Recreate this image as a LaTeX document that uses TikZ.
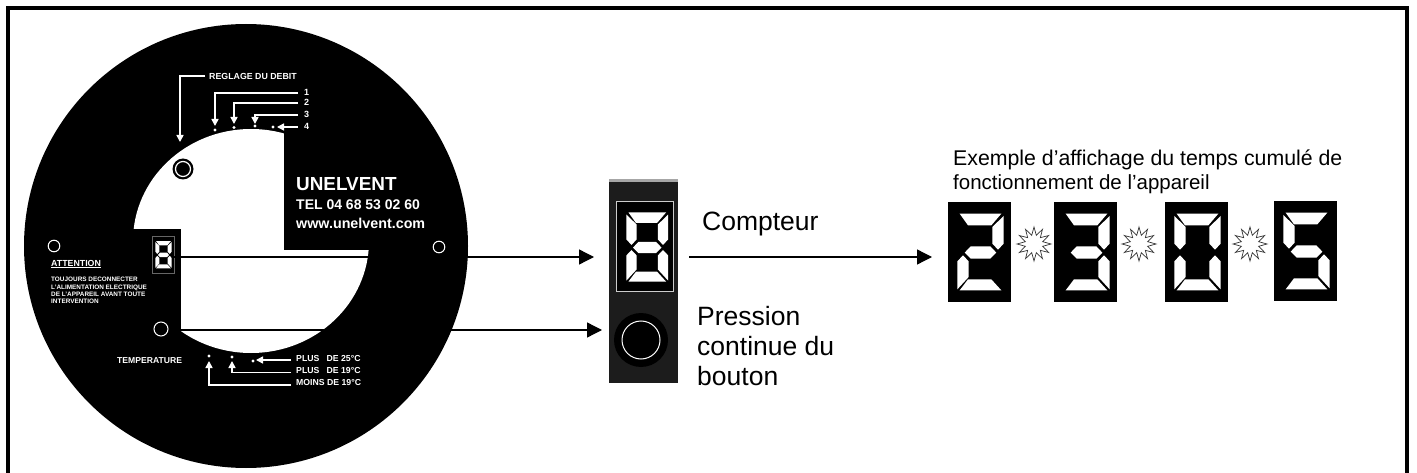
\documentclass[tikz,border=0pt]{standalone}
\usepackage{fontspec}
\setmainfont{Liberation Sans}
\usetikzlibrary{arrows.meta,shapes.geometric}
\definecolor{paneldark}{HTML}{1C1C1C}
\tikzset{
	x=1pt, y=-1pt,
	plate/.style={text=white, font=\bfseries\fontsize{#1}{#1}\selectfont, inner sep=0pt, anchor=west},
	plate/.default=8,
	caption/.style={font=\fontsize{#1}{#1}\selectfont, inner sep=0pt, anchor=west},
	hint/.style={white, line width=1.6pt, -{Triangle[length=7pt,width=7pt]}},
	callout/.style={black, line width=1.3pt, -{Triangle[length=15pt,width=15pt]}},
	burst/.style={star, star points=12, star point ratio=1.9, draw=black!80, line width=0.7pt, fill=white, minimum size=34pt, inner sep=0pt}
}
% one segment of a display, in a 189 x 300 box
\def\segA{(35,35) -- (160,35) -- (130,70) -- (60,70) -- cycle}
\def\segB{(167,42) -- (167,125) -- (150,143) -- (133,125) -- (133,75) -- cycle}
\def\segC{(167,178) -- (167,262) -- (133,225) -- (133,178) -- (150,160) -- cycle}
\def\segD{(35,265) -- (60,232) -- (130,232) -- (160,265) -- cycle}
\def\segE{(28,178) -- (45,160) -- (62,178) -- (62,225) -- (28,262) -- cycle}
\def\segF{(28,42) -- (62,75) -- (62,125) -- (45,143) -- (28,125) -- cycle}
\def\segG{(50,152) -- (68,133) -- (127,133) -- (145,152) -- (127,170) -- (68,170) -- cycle}
\def\digit[#1](#2,#3)(#4){\begin{scope}[shift={(#2,#3)}, x=#1pt, y=-#1pt]
		\foreach \s in {#4} {\fill[white] \csname seg\s\endcsname;}
	\end{scope}}

\begin{document}
\begin{tikzpicture}
	%%%%% START %%%%%
	\useasboundingbox (0, 0) rectangle (1417, 473);
	\draw[line width=4pt] (8, 473) -- (8, 8.5) -- (1407, 8.5) -- (1407, 473);
	
	% plate
	\fill[black] (246, 246) circle (222);
	\fill[white] (251, 241) ellipse (118 and 112);
	\fill[black] (284, 118) rectangle (380, 250);
	\fill[black] (120, 229) rectangle (181, 362);
	
	\fill[black] (183, 169) circle (10.5);
	\draw[white, line width=1.2pt] (183, 169) circle (7.5);
	\draw[white, line width=1pt] (54, 246) circle (5.8);
	\draw[white, line width=1pt] (439, 247) circle (5.8);
	
	\node[plate=8.8] (reglage) at (209, 76) {REGLAGE DU DEBIT};
	\node[plate=9] (un) at (304, 92) {1};
	\node[plate=9] (deux) at (304, 102) {2};
	\node[plate=9] (trois) at (304, 114) {3};
	\node[plate=9] (quatre) at (304, 126) {4};
	
	\coordinate (cible) at (180, 142);
	\coordinate (cibleA) at (215, 126);
	\coordinate (cibleB) at (234, 124);
	\coordinate (cibleC) at (255, 124);
	\coordinate (cibleD) at (277, 127);
	\draw[hint] (reglage.west) ++(-4, 0) -| (cible);
	\draw[hint] (un.west) ++(-6, 1) -| (cibleA);
	\draw[hint] (deux.west) ++(-6, 1) -| (cibleB);
	\draw[hint] (trois.west) ++(-6, 1) -| (cibleC);
	\draw[hint] (quatre.west) ++(-6, 1) -- (cibleD);
	\foreach \px/\py in {215/130, 234/127.5, 255/126, 273/127, 209/356, 232/357, 253/361}
		\fill[white] (\px, \py) circle (1.6);
	
	\node[plate=18.9, anchor=west] (marque) at (296, 184) {UNELVENT};
	\node[plate=14] (tel) at (296, 205) {TEL 04 68 53 02 60};
	\node[plate=14.3] (web) at (296, 223) {www.unelvent.com};
	
	\node[plate=8.8] (attention) at (51, 264) {\underline{ATTENTION}};
	\node[plate=6.4, align=left, anchor=north west, font=\bfseries\fontsize{6.4}{7.4}\selectfont] (consigne) at (51, 277) {TOUJOURS DECONNECTER\\L'ALIMENTATION ELECTRIQUE\\DE L'APPAREIL AVANT TOUTE\\INTERVENTION};
	
	\draw[black!60, fill=black, line width=0.5pt] (152, 236) rectangle (174, 273);
	\digit[0.118](152, 237)(A,B,C,D,E,F,G)
	\coordinate (afficheur) at (174, 257);
	\fill[black] (161, 329) circle (9);
	\draw[white, line width=1pt] (161, 329) circle (7);
	\coordinate (bouton) at (169, 330);
	
	\node[plate=8.6] (temp) at (117, 361) {TEMPERATURE};
	\node[plate=8.7] (chaud) at (296, 359) {PLUS\hspace{0.55em} DE 25°C};
	\node[plate=8.7] (tiede) at (296, 371) {PLUS\hspace{0.55em} DE 19°C};
	\node[plate=8.7] (froid) at (296, 383) {MOINS DE 19°C};
	\coordinate (cibleE) at (256, 360);
	\coordinate (cibleF) at (232, 361);
	\coordinate (cibleG) at (209, 361);
	\draw[hint] (chaud.west) ++(-5, 1) -- (cibleE);
	\draw[hint] (tiede.west) ++(-5, 1.5) -| (cibleF);
	\draw[hint] (froid.west) ++(-5, 2) -| (cibleG);
	
	% boitier
	\fill[paneldark] (609, 179) rectangle (678, 383);
	\fill[black!35] (609, 179) rectangle (678, 182);
	\draw[black!20, fill=black, line width=0.7pt] (616, 201.5) rectangle (673, 291.5);
	\digit[0.3](618, 202)(A,B,C,D,E,F,G)
	\fill[black] (641, 340) circle (27);
	\draw[white, line width=1pt] (641, 340) circle (19);
	\coordinate (compteurA) at (594, 257);
	\coordinate (compteurB) at (602, 330);
	\coordinate (depart) at (689, 257);
	\coordinate (exemple) at (932, 257);
	
	\draw[callout] (afficheur) -- (compteurA);
	\draw[callout] (bouton) -- (compteurB);
	\draw[callout] (depart) -- (exemple);
	
	\node[caption=26.5] (compteur) at (702, 224) {Compteur};
	\node[caption=26.5, align=left, anchor=north west, font=\fontsize{26.5}{30}\selectfont] (pression) at (697, 306) {Pression\\continue du\\bouton};
	\node[caption=20.5, align=left, anchor=north west, font=\fontsize{20.5}{24}\selectfont] (titre) at (953, 150) {\fontsize{21.3}{24}\selectfont Exemple d’affichage du temps cumulé de\\fonctionnement de l’appareil};
	
	% exemple de sequence
	\fill[black] (948, 202) rectangle (1011, 302);
	\digit[0.3333](948, 202)(A,B,G,E,D)
	\fill[black] (1054, 202) rectangle (1117, 302);
	\digit[0.3333](1054, 202)(A,B,G,C,D)
	\fill[black] (1165, 202) rectangle (1228, 302);
	\digit[0.3333](1165, 202)(A,B,C,D,E,F)
	\fill[black] (1274, 201) rectangle (1337, 301);
	\digit[0.3333](1274, 201)(A,F,G,C,D)
	\node[burst] (eclatA) at (1034, 244) {};
	\node[burst] (eclatB) at (1139, 244) {};
	\node[burst] (eclatC) at (1250, 244) {};
	%%%%% END %%%%%
\end{tikzpicture}
\end{document}
